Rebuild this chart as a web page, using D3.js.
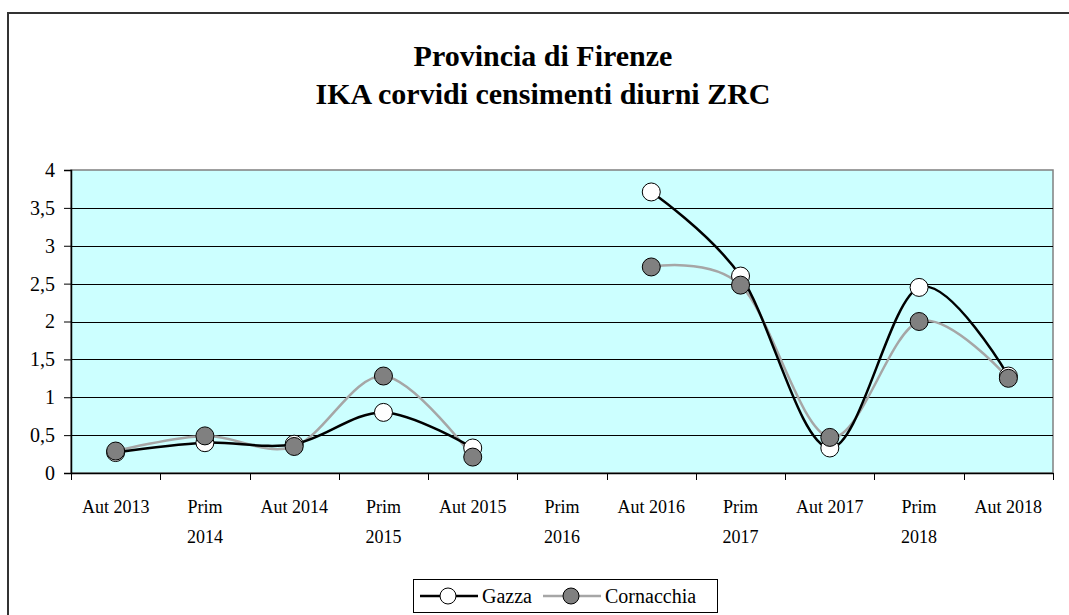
<!DOCTYPE html>
<html>
<head>
<meta charset="utf-8">
<script src="https://cdn.jsdelivr.net/npm/d3@7"></script>
<style>
  body { margin: 0; background: #fff; }
  svg { display: block; font-family: "Liberation Serif", "DejaVu Serif", serif; }
</style>
</head>
<body>
<div id="chart"></div>
<script>
// size of the picture
const WIDTH = 1069;
const HEIGHT = 615;
const MARGIN = { TOP: 170, RIGHT: 16, BOTTOM: 142, LEFT: 71 };

// data
const categories = ["Aut 2013", "Prim 2014", "Aut 2014", "Prim 2015", "Aut 2015", "Prim 2016",
    "Aut 2016", "Prim 2017", "Aut 2017", "Prim 2018", "Aut 2018"];
const gazza = [0.27, 0.40, 0.38, 0.80, 0.33, null, 3.71, 2.60, 0.33, 2.45, 1.28];
const cornacchia = [0.29, 0.49, 0.35, 1.28, 0.21, null, 2.72, 2.48, 0.47, 2.00, 1.25];
const yTicks = [0, 0.5, 1, 1.5, 2, 2.5, 3, 3.5, 4];
const titleLines = ["Provincia di Firenze", "IKA corvidi censimenti diurni ZRC"];

const series = [
    { name: "Gazza", values: gazza, line: "#000000", fill: "#ffffff" },
    { name: "Cornacchia", values: cornacchia, line: "#a6a6a6", fill: "#808080" }
];

let svg = d3.select("#chart").append("svg")
    .attr("width", WIDTH)
    .attr("height", HEIGHT);

// outer chart frame (runs past right and bottom edges)
svg.append("rect")
    .attr("x", 8).attr("y", 13)
    .attr("width", WIDTH).attr("height", HEIGHT)
    .attr("fill", "#fff")
    .attr("stroke", "#333")
    .attr("stroke-width", 2);

// title
svg.append("g").selectAll("text")
    .data(titleLines)
    .join("text")
    .attr("x", 543)
    .attr("y", (d, i) => 66 + i * 38)
    .attr("text-anchor", "middle")
    .attr("font-size", 30)
    .attr("font-weight", "bold")
    .text(d => d);

let xScale = d3.scaleBand()
    .domain(categories)
    .range([MARGIN.LEFT, WIDTH - MARGIN.RIGHT])
    .padding(0);

let yScale = d3.scaleLinear()
    .domain([0, 4])
    .range([HEIGHT - MARGIN.BOTTOM, MARGIN.TOP]);

const cx = c => xScale(c) + xScale.bandwidth() / 2;

// plot area
svg.append("rect")
    .attr("x", MARGIN.LEFT).attr("y", yScale(4))
    .attr("width", WIDTH - MARGIN.RIGHT - MARGIN.LEFT)
    .attr("height", yScale(0) - yScale(4))
    .attr("fill", "#ccffff")
    .attr("stroke", "#808080")
    .attr("stroke-width", 1.5);

// y gridlines
svg.append("g").selectAll("line")
    .data(yTicks.filter(d => d > 0 && d < 4))
    .join("line")
    .attr("x1", MARGIN.LEFT).attr("x2", WIDTH - MARGIN.RIGHT)
    .attr("y1", d => Math.round(yScale(d)) + 0.5)
    .attr("y2", d => Math.round(yScale(d)) + 0.5)
    .attr("stroke", "#000")
    .attr("stroke-width", 1);

// y axis
let yAxis = d3.axisLeft(yScale)
    .tickValues(yTicks)
    .tickSize(7)
    .tickPadding(9)
    .tickFormat(d => String(d).replace(".", ","));

let gy = svg.append("g")
    .attr("transform", "translate(" + MARGIN.LEFT + ",0)")
    .call(yAxis);
gy.select(".domain").attr("stroke", "#000").attr("stroke-width", 1.5);
gy.selectAll("text").attr("font-size", 20).attr("font-family", "Liberation Serif").attr("fill", "#000");

// x axis: labels from the band scale, ticks at band edges
let xAxis = d3.axisBottom(xScale).tickSize(0).tickPadding(0);
let gx = svg.append("g")
    .attr("transform", "translate(0," + yScale(0) + ")")
    .call(xAxis);
gx.select(".domain").attr("stroke", "#000").attr("stroke-width", 1.5);
gx.selectAll("text").remove();
gx.selectAll(".tick").each(function (d) {
    let parts = d.startsWith("Prim") ? d.split(" ") : [d];
    let t = d3.select(this).append("text")
        .attr("text-anchor", "middle")
        .attr("font-size", 18)
        .attr("font-family", "Liberation Serif")
        .attr("fill", "#000");
    parts.forEach((p, i) => {
        t.append("tspan").attr("x", 0).attr("y", 40 + i * 30).text(p);
    });
});
svg.append("g").selectAll("line")
    .data(categories.map(c => xScale(c)).concat([xScale.range()[1]]))
    .join("line")
    .attr("x1", d => Math.round(d) + 0.5).attr("x2", d => Math.round(d) + 0.5)
    .attr("y1", yScale(0)).attr("y2", yScale(0) + 7)
    .attr("stroke", "#000");

// lines
let line = d3.line()
    .defined(d => d.v != null)
    .x(d => cx(d.c))
    .y(d => yScale(d.v))
    .curve(d3.curveCatmullRom.alpha(0));

series.slice().reverse().forEach(s => {
    let pts = categories.map((c, i) => ({ c: c, v: s.values[i] }));
    svg.append("path")
        .datum(pts)
        .attr("d", line)
        .attr("fill", "none")
        .attr("stroke", s.line)
        .attr("stroke-width", 2.5);
});
series.forEach(s => {
    let pts = categories.map((c, i) => ({ c: c, v: s.values[i] })).filter(d => d.v != null);
    svg.append("g").selectAll("circle")
        .data(pts)
        .join("circle")
        .attr("cx", d => cx(d.c))
        .attr("cy", d => yScale(d.v))
        .attr("r", 9)
        .attr("fill", s.fill)
        .attr("stroke", "#000")
        .attr("stroke-width", 1);
});

// legend
let legend = svg.append("g").attr("transform", "translate(413,579)");
legend.append("rect")
    .attr("x", 0.5).attr("y", 0.5)
    .attr("width", 304).attr("height", 33)
    .attr("fill", "#fff").attr("stroke", "#000");
let offsets = [7, 130];
series.forEach((s, i) => {
    let g = legend.append("g").attr("transform", "translate(" + offsets[i] + ",17)");
    g.append("line").attr("x1", 0).attr("x2", 58).attr("y1", 0).attr("y2", 0)
        .attr("stroke", s.line).attr("stroke-width", 2.5);
    g.append("circle").attr("cx", 28).attr("cy", 0).attr("r", 8)
        .attr("fill", s.fill).attr("stroke", "#000");
    g.append("text").attr("x", 62).attr("y", 7)
        .attr("font-size", 20).text(s.name);
});
</script>
</body>
</html>
